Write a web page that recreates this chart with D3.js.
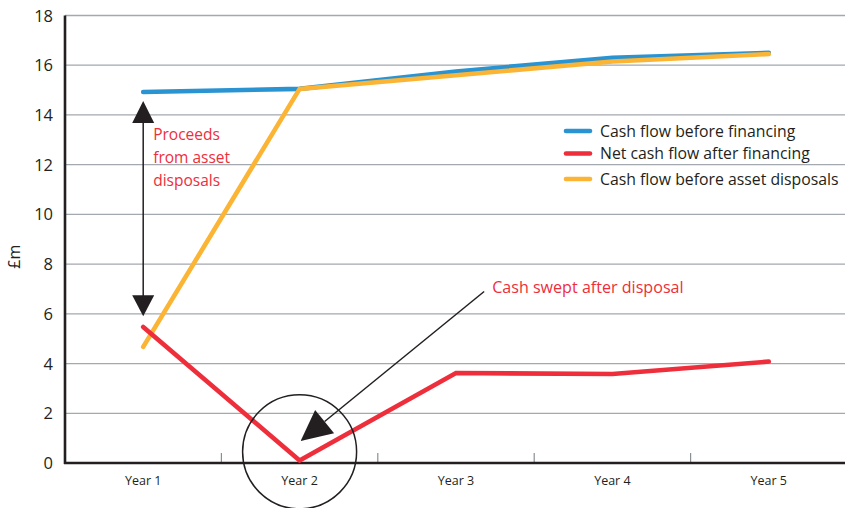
<!DOCTYPE html>
<html>
<head>
<meta charset="utf-8">
<script src="https://cdn.jsdelivr.net/npm/d3@7"></script>
<style>
  body { margin: 0; background: #fff; }
  svg { display: block; font-family: "Open Sans", "DejaVu Sans", sans-serif; }
</style>
</head>
<body>
<svg width="845" height="508"></svg>
<script>
// values (£m)
const years = ["Year 1", "Year 2", "Year 3", "Year 4", "Year 5"];
const beforeFinancing = [14.92, 15.05, 15.75, 16.3, 16.5];
const netAfterFinancing = [5.47, 0.1, 3.62, 3.58, 4.08];
const beforeDisposals = [4.67, 15.05, 15.6, 16.15, 16.45];
const yTicks = [0, 2, 4, 6, 8, 10, 12, 14, 16, 18];

const series = [
  {name: "Cash flow before financing", values: beforeFinancing, color: "#2a93d2"},
  {name: "Net cash flow after financing", values: netAfterFinancing, color: "#ee2e3b"},
  {name: "Cash flow before asset disposals", values: beforeDisposals, color: "#fbb433"}
];
// draw order: blue, orange on top, red
const drawOrder = [0, 2, 1];

const svg = d3.select("svg");
const margin = {top: 15.5, right: 0, bottom: 45, left: 65};
const width = 845, height = 508;

const x = d3.scaleBand().domain(years).range([margin.left, 847]);
const y = d3.scaleLinear().domain([0, 18]).range([height - margin.bottom, margin.top]);
const cx = d => x(d) + x.bandwidth() / 2;

// gridlines
svg.append("g")
  .selectAll("line")
  .data(yTicks.filter(t => t > 0))
  .join("line")
  .attr("x1", margin.left).attr("x2", width)
  .attr("y1", d => y(d)).attr("y2", d => y(d))
  .attr("stroke", "#a3a9ae").attr("stroke-width", 1.3);

// y tick labels
svg.append("g")
  .selectAll("text")
  .data(yTicks)
  .join("text")
  .attr("x", 53).attr("y", d => y(d) + 6)
  .attr("text-anchor", "end")
  .attr("font-size", 16.5)
  .attr("fill", "#231f20")
  .text(d => d);

svg.append("text")
  .attr("transform", `translate(20,${y(8.3)}) rotate(-90)`)
  .attr("text-anchor", "middle")
  .attr("font-size", 16)
  .attr("fill", "#231f20")
  .text("£m");

// category tick marks between bands
svg.append("g")
  .selectAll("line")
  .data(years.slice(1))
  .join("line")
  .attr("x1", d => x(d)).attr("x2", d => x(d))
  .attr("y1", y(0) - 10).attr("y2", y(0))
  .attr("stroke", "#8a8f94").attr("stroke-width", 1.2);

// x labels
svg.append("g")
  .selectAll("text")
  .data(years)
  .join("text")
  .attr("x", d => cx(d)).attr("y", y(0) + 22)
  .attr("text-anchor", "middle")
  .attr("font-size", 12.5)
  .attr("fill", "#231f20")
  .text(d => d);

// axes
svg.append("line")
  .attr("x1", margin.left).attr("x2", margin.left)
  .attr("y1", y(18)).attr("y2", y(0) + 1)
  .attr("stroke", "#231f20").attr("stroke-width", 2.6);
svg.append("line")
  .attr("x1", margin.left - 1).attr("x2", width)
  .attr("y1", y(0)).attr("y2", y(0))
  .attr("stroke", "#231f20").attr("stroke-width", 2.6);

// lines
const line = d3.line()
  .x((d, i) => cx(years[i]))
  .y(d => y(d));

svg.append("g")
  .selectAll("path")
  .data(drawOrder.map(i => series[i]))
  .join("path")
  .attr("d", d => line(d.values))
  .attr("fill", "none")
  .attr("stroke", d => d.color)
  .attr("stroke-width", 4.6)
  .attr("stroke-linecap", "round")
  .attr("stroke-linejoin", "miter");

// legend
const legend = svg.append("g");
const legendY = [131, 153.5, 179];
series.forEach((s, i) => {
  legend.append("line")
    .attr("x1", 566).attr("x2", 590)
    .attr("y1", legendY[i]).attr("y2", legendY[i])
    .attr("stroke", s.color).attr("stroke-width", 4.6)
    .attr("stroke-linecap", "round");
  legend.append("text")
    .attr("x", 600).attr("y", legendY[i] + 5.5)
    .attr("font-size", 15.8)
    .attr("fill", "#231f20")
    .text(s.name);
});

// annotation: proceeds from asset disposals (double arrow)
const ax = cx("Year 1");
const topTip = y(14.56), botTip = y(5.9);
svg.append("line")
  .attr("x1", ax).attr("x2", ax)
  .attr("y1", topTip + 15).attr("y2", botTip - 15)
  .attr("stroke", "#231f20").attr("stroke-width", 1.5);
svg.append("path")
  .attr("d", `M${ax},${topTip} L${ax - 11},${topTip + 22} L${ax + 11},${topTip + 22} Z`)
  .attr("fill", "#231f20");
svg.append("path")
  .attr("d", `M${ax},${botTip} L${ax - 11},${botTip - 21} L${ax + 11},${botTip - 21} Z`)
  .attr("fill", "#231f20");

const proceeds = ["Proceeds", "from asset", "disposals"];
svg.append("g")
  .selectAll("text")
  .data(proceeds)
  .join("text")
  .attr("x", ax + 10).attr("y", (d, i) => 140 + i * 23)
  .attr("font-size", 15.5)
  .attr("fill", "#ee2e3b")
  .text(d => d);

// annotation: cash swept after disposal
const bw = x.bandwidth();
const tail = [cx("Year 2") + bw * 1.18, y(6.9)];
const tip = [cx("Year 2") + 1, y(0.88)];
const ang = Math.atan2(tip[1] - tail[1], tip[0] - tail[0]);
const headLen = 31, headHalf = 15;
const base = [tip[0] - headLen * Math.cos(ang), tip[1] - headLen * Math.sin(ang)];
const px = -Math.sin(ang), py = Math.cos(ang);
svg.append("line")
  .attr("x1", tail[0]).attr("y1", tail[1])
  .attr("x2", base[0]).attr("y2", base[1])
  .attr("stroke", "#231f20").attr("stroke-width", 1.5);
svg.append("path")
  .attr("d", `M${tip[0]},${tip[1]} L${base[0] + px * headHalf},${base[1] + py * headHalf} L${base[0] - px * headHalf},${base[1] - py * headHalf} Z`)
  .attr("fill", "#231f20");

svg.append("text")
  .attr("x", tail[0] + 8).attr("y", tail[1] + 2)
  .attr("font-size", 16.1)
  .attr("fill", "#ee2e3b")
  .text("Cash swept after disposal");

svg.append("circle")
  .attr("cx", cx("Year 2")).attr("cy", y(0.45))
  .attr("r", 57)
  .attr("fill", "none")
  .attr("stroke", "#231f20").attr("stroke-width", 1.5);
</script>
</body>
</html>
